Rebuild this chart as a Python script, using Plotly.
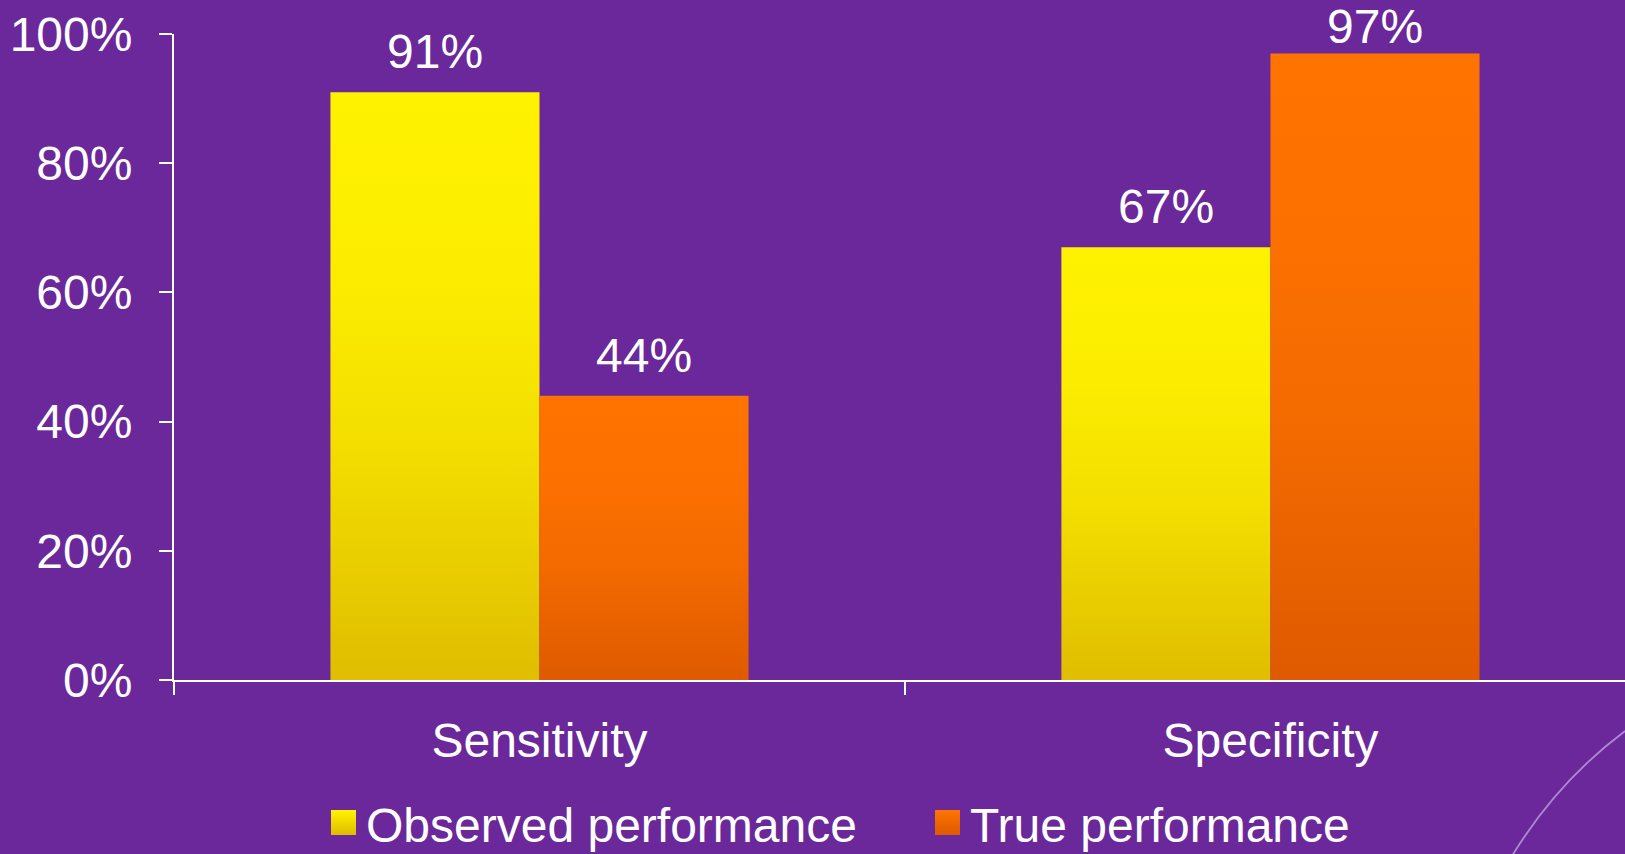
import plotly.graph_objects as go

# ---- data -------------------------------------------------------------
categories = ["Sensitivity", "Specificity"]
series_names = ["Observed performance", "True performance"]
observed = [91, 67]
true_perf = [44, 97]
y_ticks = [0, 20, 40, 60, 80, 100]
y_tick_labels = ["0%", "20%", "40%", "60%", "80%", "100%"]

# ---- style / layout constants ----------------------------------------
W, H = 1625, 854
M_L, M_R, M_T, M_B = 174, 0, 34, 174
PLOT_W = W - M_L - M_R
PLOT_H = H - M_T - M_B

BG = "#6A289A"
WHITE = "#FFFFFF"
FONT = "Liberation Sans, Arial, sans-serif"
FS = 48

X_RANGE = [-0.5, 1.485]
BAR_W = 0.286
Y_RANGE = [0, 100]

SERIES_STYLE = [
    dict(top="#FFF200", bottom="#DFBD00"),
    dict(top="#FF7300", bottom="#DF5A00"),
]
# how far (0..1) the colour has moved from bottom to top at each height
GRADIENT_SHAPE = [(0.0, 0.0), (0.15, 0.25), (0.4, 0.62), (0.7, 0.9), (1.0, 1.0)]


def px_to_paper(x, y):
    return (x - M_L) / PLOT_W, (H - M_B - y) / PLOT_H


def value_to_px(v):
    return M_T + PLOT_H * (1 - (v - Y_RANGE[0]) / (Y_RANGE[1] - Y_RANGE[0]))


def mix(c1, c2, t):
    a = [int(c1[k:k + 2], 16) for k in (1, 3, 5)]
    b = [int(c2[k:k + 2], 16) for k in (1, 3, 5)]
    return "rgb({},{},{})".format(*[round(p + (q - p) * t) for p, q in zip(a, b)])


def bar_colorscale(st):
    return [[pos, mix(st["bottom"], st["top"], amt)] for pos, amt in GRADIENT_SHAPE]


fig = go.Figure()
annotations = []
shapes = []

# ---- bars: filled rectangles with a vertical gradient -----------------
for s, (name, values) in enumerate(zip(series_names, [observed, true_perf])):
    st = SERIES_STYLE[s]
    for i, (cat, v) in enumerate(zip(categories, values)):
        x0 = i - BAR_W + s * BAR_W
        x1 = x0 + BAR_W
        fig.add_trace(go.Scatter(
            x=[x0, x0, x1, x1, x0],
            y=[0, v, v, 0, 0],
            mode="lines",
            line=dict(width=0, color="rgba(0,0,0,0)"),
            fill="toself",
            fillgradient=dict(
                type="vertical",
                colorscale=bar_colorscale(st),
                start=0,
                stop=v,
            ),
            name=name,
            showlegend=False,
            hovertemplate=f"{cat}<br>{name}: {v}%<extra></extra>",
        ))
        # value label above the bar, kept inside the top of the figure
        bar_top = value_to_px(v)
        baseline = max(bar_top - 22, 45)
        annotations.append(dict(
            x=(x0 + x1) / 2, y=v, xref="x", yref="y",
            text=f"{v}%", showarrow=False,
            xanchor="center", yanchor="bottom",
            yshift=bar_top - (baseline + 10),
            font=dict(family=FONT, size=FS, color=WHITE),
        ))

# ---- legend: gradient swatches (thin strips) + labels -----------------
legend_items = [
    dict(swatch_x=331, text_x=364),
    dict(swatch_x=935, text_x=968),
]
SWATCH = 25
SWATCH_TOP = 810
STRIPS = 25
for s, name in enumerate(series_names):
    st = SERIES_STYLE[s]
    item = legend_items[s]
    for k in range(STRIPS):
        y0 = SWATCH_TOP + k * SWATCH / STRIPS
        y1 = y0 + SWATCH / STRIPS + 0.4
        ax0, ay0 = px_to_paper(item["swatch_x"], y0)
        ax1, ay1 = px_to_paper(item["swatch_x"] + SWATCH, min(y1, SWATCH_TOP + SWATCH))
        shapes.append(dict(
            type="rect", xref="paper", yref="paper",
            x0=ax0, x1=ax1, y0=ay1, y1=ay0,
            line=dict(width=0),
            fillcolor=mix(st["top"], st["bottom"], k / (STRIPS - 1)),
        ))
    tx, ty = px_to_paper(item["text_x"], SWATCH_TOP + SWATCH / 2 + 3)
    annotations.append(dict(
        x=tx, y=ty, xref="paper", yref="paper",
        text=name, showarrow=False, xanchor="left", yanchor="middle",
        font=dict(family=FONT, size=FS, color=WHITE),
    ))

# ---- decorative arc in the lower right corner -------------------------
p0 = px_to_paper(1625, 731)
pc = px_to_paper(1557, 782)
p1 = px_to_paper(1512, 856)
shapes.append(dict(
    type="path", xref="paper", yref="paper", layer="below",
    path=f"M {p0[0]},{p0[1]} Q {pc[0]},{pc[1]} {p1[0]},{p1[1]}",
    line=dict(color="rgba(190,160,225,0.8)", width=1.8),
))

fig.update_layout(
    width=W, height=H,
    margin=dict(l=M_L, r=M_R, t=M_T, b=M_B, pad=0),
    paper_bgcolor=BG, plot_bgcolor=BG,
    font=dict(family=FONT, size=FS, color=WHITE),
    showlegend=False,
    annotations=annotations,
    shapes=shapes,
    xaxis=dict(
        range=X_RANGE, showgrid=False, zeroline=False,
        showline=True, linecolor=WHITE, linewidth=2,
        tickmode="array", tickvals=[0, 1], ticktext=categories,
        ticks="", ticklabelstandoff=17,
        tickfont=dict(family=FONT, size=FS, color=WHITE),
        minor=dict(tickmode="array", tickvals=[-0.5, 0.5], ticks="outside",
                   ticklen=13, tickwidth=2, tickcolor=WHITE, showgrid=False),
        fixedrange=True,
    ),
    yaxis=dict(
        range=Y_RANGE, showgrid=False, zeroline=False,
        showline=True, linecolor=WHITE, linewidth=2,
        tickmode="array", tickvals=y_ticks, ticktext=y_tick_labels,
        ticks="outside", ticklen=13, tickwidth=2, tickcolor=WHITE,
        ticklabelstandoff=17,
        tickfont=dict(family=FONT, size=FS, color=WHITE),
        fixedrange=True,
    ),
)

fig.write_html("out.html")
